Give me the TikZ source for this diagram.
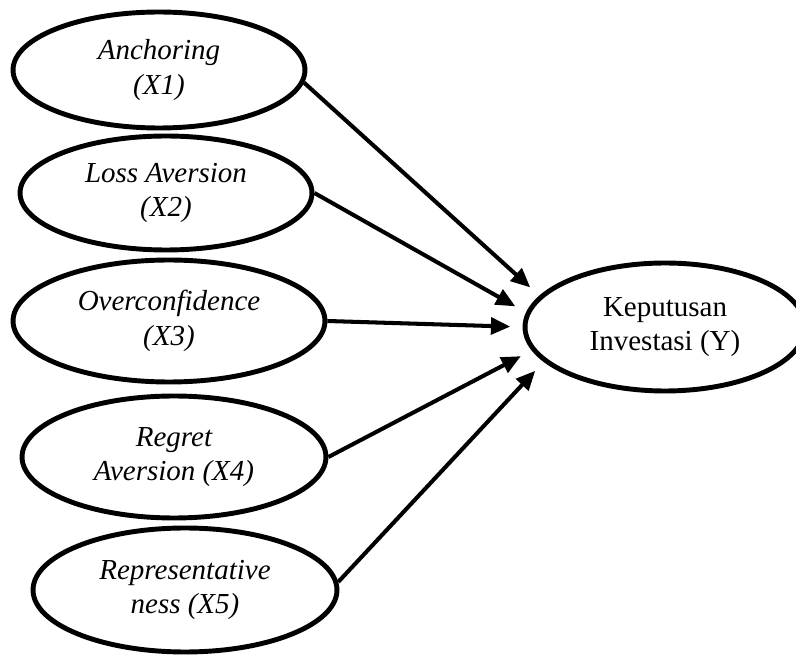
\documentclass[tikz,border=0pt]{standalone}
\usepackage{fontspec}
\setmainfont{Liberation Serif}
\usepackage{tikz}
\usetikzlibrary{arrows.meta,shapes.geometric}
\tikzset{
  varx/.style={draw=black, ellipse, line width=2.8pt, inner sep=0pt, align=center, font=\fontsize{16.5}{19.5}\selectfont\itshape},
  vary/.style={draw=black, ellipse, line width=2.8pt, inner sep=0pt, align=center, font=\fontsize{16.5}{19.5}\selectfont},
  panah/.style={-{Triangle[length=11pt,width=9.5pt]}, line width=2.3pt, shorten >=7pt},
}
\begin{document}
\begin{tikzpicture}[x=0.02cm, y=-0.02cm]
\useasboundingbox (0,0) rectangle (796,655);
\node[varx, minimum width=5.84cm, minimum height=2.32cm] (x1) at (159,70) {Anchoring\\(X1)};
\node[varx, minimum width=5.84cm, minimum height=2.28cm] (x2) at (166,193) {Loss Aversion\\(X2)};
\node[varx, minimum width=6.24cm, minimum height=2.44cm] (x3) at (169,321) {Overconfidence\\(X3)};
\node[varx, minimum width=6.08cm, minimum height=2.44cm] (x4) at (174,457) {Regret\\Aversion (X4)};
\node[varx, minimum width=6.08cm, minimum height=2.48cm] (x5) at (185,590) {Representative\\ness (X5)};
\node[vary, minimum width=5.6cm, minimum height=2.56cm] (y) at (665,327) {Keputusan\\Investasi (Y)};
\draw[panah] (x1.-5) -- (y.166);
\draw[panah] (x2.east) -- (y.174);
\draw[panah] (x3.east) -- (y.180);
\draw[panah] (x4.east) -- (y.190);
\draw[panah] (x5.3) -- (y.196);
\end{tikzpicture}
\end{document}
